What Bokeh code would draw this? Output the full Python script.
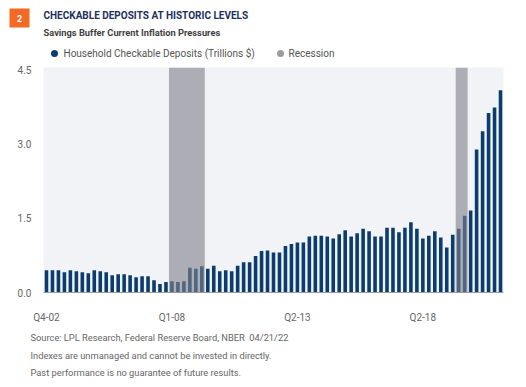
from bokeh.plotting import figure
from bokeh.models import Range1d, BoxAnnotation, FixedTicker, ColumnDataSource
from bokeh.layouts import column
from bokeh.core.properties import value
from bokeh.embed import file_html
from bokeh.resources import INLINE

# ---- data ----
quarters = []
for yr in range(2002, 2022):
    for q in range(1, 5):
        if yr == 2002 and q < 4:
            continue
        quarters.append(f"Q{q}-{str(yr)[2:]}")

deposits = [0.45, 0.45, 0.45, 0.41, 0.45, 0.43, 0.41, 0.39, 0.45, 0.43,
            0.41, 0.35, 0.37, 0.37, 0.35, 0.31, 0.33, 0.33, 0.25, 0.17,
            0.21, 0.23, 0.21, 0.23, 0.50, 0.48, 0.53, 0.48, 0.54, 0.43,
            0.45, 0.43, 0.54, 0.61, 0.61, 0.74, 0.84, 0.85, 0.81, 0.81,
            0.94, 0.98, 1.01, 1.01, 1.13, 1.15, 1.15, 1.13, 1.09, 1.18,
            1.26, 1.13, 1.20, 1.29, 1.24, 1.13, 1.13, 1.31, 1.31, 1.22,
            1.31, 1.42, 1.29, 1.09, 1.15, 1.24, 1.11, 0.91, 1.17, 1.29,
            1.55, 1.66, 2.89, 3.26, 3.63, 3.74, 4.09]

recession_start = ["Q1-08", "Q1-20"]
recession_end = ["Q2-09", "Q2-20"]

x_tick_index = [0, 21, 42, 63]
x_tick_labels = ["Q4-02", "Q1-08", "Q2-13", "Q2-18"]
y_ticks = [0.0, 1.5, 3.0, 4.5]

chart_number = "2"
title = "CHECKABLE DEPOSITS AT HISTORIC LEVELS"
subtitle = "Savings Buffer Current Inflation Pressures"
series_name = "Household Checkable Deposits (Trillions $)"
recession_name = "Recession"
footer = ["Source: LPL Research, Federal Reserve Board, NBER\u00a0 04/21/22",
          "Indexes are unmanaged and cannot be invested in directly.",
          "Past performance is no guarantee of future results."]

# ---- style ----
W = 526
NAVY = "#0b3c6e"
TITLE_C = "#1c2f5f"
ORANGE = "#f26a24"
REC_C = "#9a9ca3"
GRAY_TXT = "#666666"
FONT = "Roboto"


def text_panel(h):
    f = figure(width=W, height=h, output_backend="svg", toolbar_location=None,
               x_range=Range1d(0, W), y_range=Range1d(h, 0),
               x_axis_type=None, y_axis_type=None, min_border=0, frame_align=False)
    f.outline_line_color = None
    f.grid.visible = False
    f.background_fill_color = "white"
    f.border_fill_color = "white"
    return f


def txt(f, x, y, s, size, color, style="normal", align="left"):
    f.text(x=[x], y=[y], text=[s], text_font=value(FONT), text_font_size=value(size),
           text_color=color, text_font_style=style, text_align=align,
           text_baseline="middle")


# ---- header ----
head = text_panel(60)
head.quad(left=[9], right=[29], top=[8], bottom=[27], fill_color=ORANGE, line_color=None)
txt(head, 19, 17.5, chart_number, "9px", "white", "bold", "center")
txt(head, 43, 14.5, title, "10px", TITLE_C, "bold")
txt(head, 43, 31.5, subtitle, "9.3px", "#404040", "bold")
head.scatter(x=[54], y=[53], size=7, fill_color=NAVY, line_color=None)
txt(head, 63, 53, series_name, "10px", "#555555")
head.scatter(x=[280], y=[53], size=7, fill_color=REC_C, line_color=None)
txt(head, 288, 53, recession_name, "10px", "#555555")

# ---- chart ----
p = figure(width=W, height=265, output_backend="svg", toolbar_location=None,
           x_range=Range1d(-0.5, len(quarters) - 0.5), y_range=Range1d(0, 4.55),
           min_border_left=43, min_border_right=23, min_border_top=7, min_border_bottom=31,
           frame_align=False)
p.background_fill_color = "#f2f3f6"
p.border_fill_color = "white"
p.outline_line_color = None
p.xgrid.grid_line_color = None
p.ygrid.grid_line_color = None

src = ColumnDataSource(dict(x=list(range(len(quarters))), top=deposits, q=quarters))
p.vbar(x="x", top="top", bottom=0, width=0.6, source=src, fill_color=NAVY, line_color=None)

for s, e in zip(recession_start, recession_end):
    p.add_layout(BoxAnnotation(left=quarters.index(s) - 0.5, right=quarters.index(e) + 0.5,
                               fill_color="#7e808a", fill_alpha=0.6, line_color=None))

p.xaxis.ticker = FixedTicker(ticks=x_tick_index)
p.xaxis.major_label_overrides = {i: l for i, l in zip(x_tick_index, x_tick_labels)}
p.xaxis.major_tick_line_color = None
p.xaxis.minor_tick_line_color = None
p.xaxis.axis_line_color = "#9a9a9a"
p.xaxis.major_label_standoff = 13
p.xaxis.major_label_text_font = FONT
p.xaxis.major_label_text_font_size = "10px"
p.xaxis.major_label_text_color = GRAY_TXT

p.yaxis.ticker = FixedTicker(ticks=y_ticks)
p.yaxis.major_label_overrides = {t: f"{t:.1f}" for t in y_ticks}
p.yaxis.major_tick_line_color = None
p.yaxis.minor_tick_line_color = None
p.yaxis.axis_line_color = None
p.yaxis.major_label_standoff = 6
p.yaxis.major_label_text_font = FONT
p.yaxis.major_label_text_font_size = "10px"
p.yaxis.major_label_text_color = GRAY_TXT

# ---- footer ----
foot = text_panel(62)
txt(foot, 30, 12, footer[0], "9.3px", GRAY_TXT)
txt(foot, 30, 30, footer[1], "9.3px", GRAY_TXT)
txt(foot, 30, 46.5, footer[2], "9.3px", GRAY_TXT)

layout = column(head, p, foot, spacing=0)
open("out.html", "w").write(file_html(layout, INLINE))
